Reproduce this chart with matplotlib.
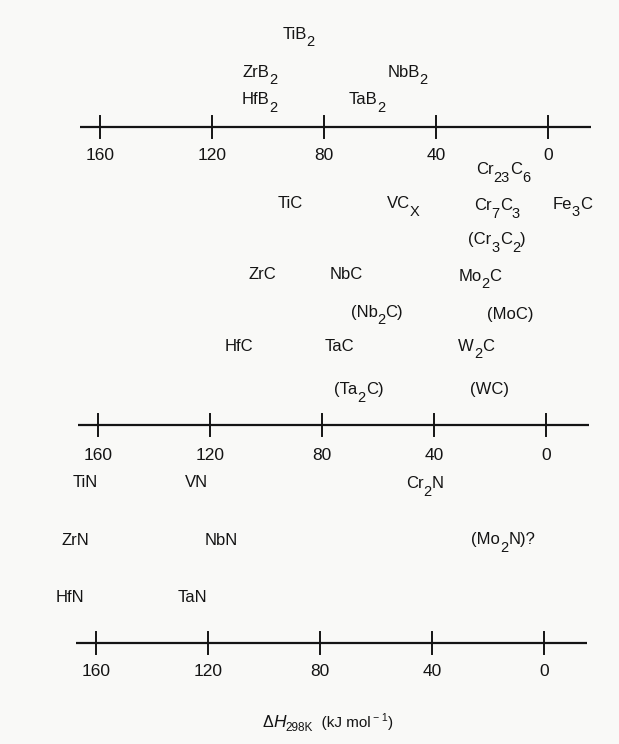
import re
import matplotlib
matplotlib.use("Agg")
import matplotlib.pyplot as plt
from matplotlib.transforms import offset_copy

plt.rcParams["font.family"] = ["Liberation Sans", "DejaVu Sans"]

# Enthalpy scale (kJ/mol), decreasing to the right
tick_values = [160, 120, 80, 40, 0]
tick_labels = ["160", "120", "80", "40", "0"]

# Borides
boride_names = ["TiB_2", "ZrB_2", "HfB_2", "NbB_2", "TaB_2"]
boride_values = [89.1, 103, 103, 50.2, 64.5]

# Carbides
carbide_names = ["Cr_{23}C_6", "TiC", "VC_X", "Cr_7C_3", "Fe_3C",
                 "(Cr_3C_2)", "ZrC", "NbC", "Mo_2C", "(Nb_2C)", "(MoC)",
                 "HfC", "TaC", "W_2C", "(Ta_2C)", "(WC)"]
carbide_values = [15.4, 91.4, 51, 17.5, -9.3, 17.5, 101.4, 71.4, 23.6,
                  60.4, 12.9, 109.6, 73.6, 25, 66.8, 20]

# Nitrides
nitride_names = ["TiN", "VN", "Cr_2N", "ZrN", "NbN", "(Mo_2N)?", "HfN", "TaN"]
nitride_values = [164, 124, 42.5, 167.5, 115.4, 14.6, 169.3, 125.7]

# Vertical layout (figure pixels from top) of each text row
boride_rows = [33, 71, 98.5, 71, 98]
carbide_rows = [168, 202, 202, 204, 203, 238, 273, 273, 275, 311, 313, 345, 345, 345, 388, 388]
nitride_rows = [481, 481, 482, 539, 539, 538, 596, 596]
axis_rows = [126.5, 425, 643]
ticklabel_rows = [154, 453.5, 670]
panel_shift = [0, -2, -4]          # small horizontal offset of each panel, pixels

W, H = 619, 744
DPI = 100
fig = plt.figure(figsize=(W / DPI, H / DPI), dpi=DPI)
bg = "#f9f9f7"
fig.patch.set_facecolor(bg)
ax = fig.add_axes([0, 0, 1, 1])
ax.set_facecolor(bg)
# value scale: 160 sits at 100 px, 0 at 548 px
x160, x0 = 100.0, 548.0
ppu = (x0 - x160) / 160.0
ax.set_xlim(x0 / ppu, (x0 - W) / ppu)
ax.set_ylim(H, 0)
ax.axis("off")

ink = "#141414"
renderer = fig.canvas.get_renderer()


def shifted(dx, dy=0.0):
    return offset_copy(ax.transData, fig=fig, x=dx, y=dy, units="dots")


def text_width(s, size, style="normal"):
    t = ax.text(0, 0, s, fontsize=size, style=style)
    w = t.get_window_extent(renderer).width
    t.remove()
    return w


def draw_segments(x, baseline, segs, dx0=0.0):
    """segs: list of (text, fontsize, raise_px, style); drawn centred on x."""
    widths = [text_width(s, sz, st) for s, sz, _, st in segs]
    cur = dx0 - sum(widths) / 2.0
    for (s, sz, rise, st), w in zip(segs, widths):
        ax.text(x, baseline, s, fontsize=sz, style=st, color=ink, ha="left",
                va="baseline", transform=shifted(cur, rise))
        cur += w


def formula_segments(name, size=12.0, sub_scale=0.88, drop=7.5):
    segs = []
    for grp, single, plain in re.findall(r"_\{([^}]*)\}|_(.)|([^_]+)", name):
        if plain:
            segs.append((plain, size, 0.0, "normal"))
        else:
            segs.append((grp or single, size * sub_scale, -drop, "normal"))
    return segs


# number lines
line_left, line_right = 167.0, -15.5
for yl, yt, sh in zip(axis_rows, ticklabel_rows, panel_shift):
    ax.plot([line_left, line_right], [yl, yl], color=ink, lw=1.6,
            solid_capstyle="butt", transform=shifted(sh))
    for v, lab in zip(tick_values, tick_labels):
        ax.plot([v, v], [yl - 11, yl + 11], color=ink, lw=1.4, transform=shifted(sh))
        ax.text(v, yt + 6.2, lab, ha="center", va="baseline", fontsize=12.5,
                color=ink, transform=shifted(sh))

# compound labels
groups = [(boride_names, boride_values, boride_rows, panel_shift[0]),
          (carbide_names, carbide_values, carbide_rows, panel_shift[1]),
          (nitride_names, nitride_values, nitride_rows, panel_shift[2])]
for names, values, rows, sh in groups:
    for n, v, r in zip(names, values, rows):
        draw_segments(v, r + 6, formula_segments(n), dx0=sh)

# axis title
title_segs = [("\u0394", 11.5, 0.0, "normal"), ("H", 12.5, 0.0, "italic"),
              ("298K", 8.5, -4.0, "normal"), ("  (kJ mol", 11.0, 0.0, "normal"),
              ("\u2009\u2212", 7.5, 6.0, "normal"), (" 1", 7.5, 6.0, "normal"),
              (")", 11.0, 0.0, "normal")]
draw_segments(77.3, 727, title_segs, dx0=panel_shift[2])

fig.savefig("out.png", dpi=DPI, facecolor=fig.get_facecolor())
